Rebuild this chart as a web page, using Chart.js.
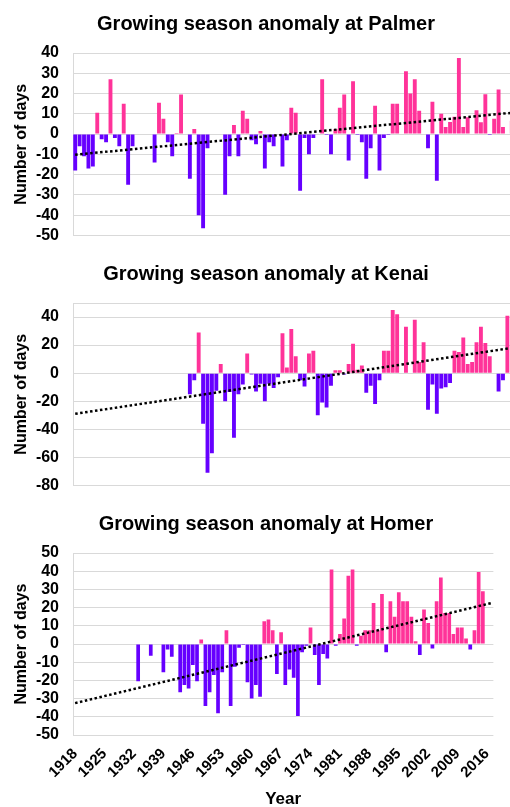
<!DOCTYPE html>
<html>
<head>
<meta charset="utf-8">
<script src="https://cdn.jsdelivr.net/npm/chart.js@4/dist/chart.umd.min.js"></script>
<style>
  html, body { margin: 0; padding: 0; background: #fff; width: 510px; height: 807px; overflow: hidden; }
  canvas { position: absolute; left: 0; }
</style>
</head>
<body>
<canvas id="palmer" width="514" height="259" style="top:0"></canvas>
<canvas id="kenai" width="514" height="259" style="top:250px"></canvas>
<canvas id="homer" width="514" height="310" style="top:500px"></canvas>
<script>
// years 1918..2017 (last one is cut off at the right edge)
const years = [];
for (let y = 1918; y <= 2017; y++) years.push(String(y));
const xTickYears = [1918, 1925, 1932, 1939, 1946, 1953, 1960, 1967, 1974, 1981, 1988, 1995, 2002, 2009, 2016];

const palmerDays = [
  -18, -6, -11, -17, -16, 10.5, -2.5, -4, 27, -2,
  -6, 15, -25, -6, null, null, null, null, -14, 15.5,
  7.5, -4, -11, 0.5, 19.5, null, -22, 2.5, -40, -46.5,
  -7, null, null, null, -30, -11, 4.5, -11, 11.5, 7.5,
  -3, -5, 1.5, -17, -4, -6, null, -16, -3, 13,
  10.5, -28, -2, -10, -2, null, 27, -0.5, -10, 2.5,
  13, 19.5, -13, 26, -0.5, -4, -22, -7, 14, -18,
  -2, -0.5, 15, 15, null, 31, 20, 27, 11.5, null,
  -7, 16, -23, 10, 3.5, 6, 8.5, 37.5, 3.5, 8.3,
  null, 11.7, 5.8, 19.6, -0.5, 7.6, 22, 3.5, null, 6.6
];
const kenaiDays = [
  null, null, null, null, null, null, null, null, null, null,
  null, null, null, null, null, null, null, null, null, null,
  null, null, null, null, null, null, -15, -5, 29, -36,
  -71, -57, -12.5, 6.5, -20, -13.5, -46, -15, -8, 14,
  -1, -13, -7.5, -20, -7.5, -10.5, -3, 28.5, 4, 31.5,
  12, -5, -9.5, 14, 16, -30, -21, -24.5, -9, 2,
  2, -1, 6.5, 21, 2.5, 5.5, -14, -9, -22, -5,
  16, 16, 45, 42, null, 33, -0.5, 38, 8, 22,
  -26, -8, -29, -11, -10, -7, 16, 15, 25.5, 6.5,
  8, 22, 33, 21.5, 12, null, -13, -5, 41, null
];
const homerDays = [
  null, null, null, null, null, null, null, null, null, null,
  null, null, null, null, null, -20.5, null, null, -6.5, null,
  null, -15.5, -3, -7, null, -26.5, -22.5, -24.5, -11.5, -20.5,
  2.5, -34, -26.5, -17, -38, -15.5, 7.5, -34, -12.5, -2,
  -0.5, -21, -30, -22.5, -29, 12.5, 13.5, 7.5, -16.5, 6.5,
  -22.5, -14, -18.5, -39.5, -4.5, -1, 9, -6, -22.5, -5.5,
  -8, 41, -1, 5.5, 14, 37.5, 41, -1, 4.5, 7.5,
  7.5, 22.5, 7.5, 27.5, -4.5, 23.5, 15, 28.5, 23.5, 23.5,
  15, 1.5, -6, 19, 11.5, -2.5, 23.5, 36.5, 17, 17,
  5.5, 9, 9, 3, -3, 7.5, 39.5, 29, null, null
];

// linear trend, start and end values
const trendYears = ["1918", "2017"];
const palmerTrend = [-10.2, 10.5];
const kenaiTrend = [-29, 18];
const homerTrend = [-32.5, 22.5];

const palmerTicks = [-50, -40, -30, -20, -10, 0, 10, 20, 30, 40];
const kenaiTicks = [-80, -60, -40, -20, 0, 20, 40];
const homerTicks = [-50, -40, -30, -20, -10, 0, 10, 20, 30, 40, 50];

const PINK = "#ff3399";
const PURPLE = "#6600ff";
const GRID = "#d9d9d9";
const FONT = "Arial, 'Liberation Sans', sans-serif";

const titlePlugin = {
  id: "stationTitle",
  afterDraw(chart, args, opts) {
    const ctx = chart.ctx;
    ctx.save();
    ctx.font = "bold 20px " + FONT;
    ctx.fillStyle = "#000";
    ctx.textAlign = "center";
    ctx.textBaseline = "middle";
    ctx.fillText(opts.text, 266, 24);
    ctx.restore();
  }
};

function makeChart(id, title, values, trend, ticks, min, max, showX) {
  new Chart(document.getElementById(id), {
    data: {
      labels: years,
      datasets: [
        {
          type: "line",
          data: trendYears.map((y, i) => ({ x: y, y: trend[i] })),
          borderColor: "#000",
          borderWidth: 2.5,
          borderDash: [2.5, 2.5],
          pointRadius: 0,
          order: 0
        },
        {
          type: "bar",
          data: values,
          backgroundColor: ctx => (ctx.raw >= 0 ? PINK : PURPLE),
          borderWidth: 0,
          categoryPercentage: 1,
          barPercentage: 0.88,
          order: 1
        }
      ]
    },
    options: {
      responsive: false,
      animation: false,
      devicePixelRatio: 1,
      layout: { padding: { top: 53, right: 0, left: 0, bottom: 0 } },
      plugins: {
        legend: { display: false },
        tooltip: { enabled: false },
        stationTitle: { text: title }
      },
      scales: {
        x: {
          grid: { display: false, drawTicks: false },
          border: { display: false },
          ticks: {
            display: showX,
            autoSkip: false,
            minRotation: 45,
            maxRotation: 45,
            padding: 10,
            color: "#000",
            font: { family: FONT, size: 15, weight: "bold" },
            callback: (v, i) => (xTickYears.includes(Number(years[i])) ? years[i] : "")
          },
          title: {
            display: showX,
            text: "Year",
            color: "#000",
            padding: { top: 0, bottom: 0 },
            font: { family: FONT, size: 17, weight: "bold" }
          },
          afterFit: s => { s.height = showX ? 75 : 10; }
        },
        y: {
          min: min,
          max: max,
          grid: { color: GRID, drawTicks: false },
          border: { color: GRID },
          ticks: {
            autoSkip: false,
            padding: 14,
            color: "#000",
            font: { family: FONT, size: 16, weight: "bold" },
            callback: v => (ticks.includes(v) ? v : "")
          },
          afterBuildTicks: s => {
            const vals = ticks.includes(max) ? ticks : ticks.concat([max]);
            s.ticks = vals.map(v => ({ value: v }));
          },
          title: {
            display: true,
            text: "Number of days",
            color: "#000",
            padding: { top: 12, bottom: 0 },
            font: { family: FONT, size: 16, weight: "bold" }
          },
          afterFit: s => { s.width = 73; }
        }
      }
    },
    plugins: [titlePlugin]
  });
}

makeChart("palmer", "Growing season anomaly at Palmer", palmerDays, palmerTrend, palmerTicks, -50, 40, false);
makeChart("kenai", "Growing season anomaly at Kenai", kenaiDays, kenaiTrend, kenaiTicks, -80, 50, false);
makeChart("homer", "Growing season anomaly at Homer", homerDays, homerTrend, homerTicks, -50, 50, true);
</script>
</body>
</html>
